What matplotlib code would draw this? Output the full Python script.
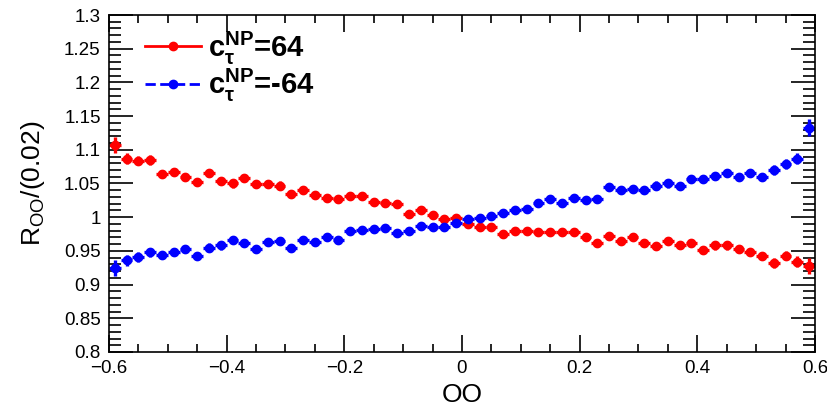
import matplotlib
matplotlib.use("Agg")
import matplotlib.pyplot as plt
import numpy as np
from matplotlib.lines import Line2D
from matplotlib.ticker import MultipleLocator

plt.rcParams["font.family"] = ["Liberation Sans", "DejaVu Sans"]
plt.rcParams["mathtext.fontset"] = "custom"
plt.rcParams["mathtext.rm"] = "Liberation Sans"
plt.rcParams["mathtext.it"] = "Liberation Sans:italic"
plt.rcParams["mathtext.bf"] = "Liberation Sans:bold"

# 60 bins of width 0.02 on [-0.6, 0.6]
bin_width = 0.02
bin_centers = np.arange(-0.59, 0.6, bin_width)

ratio_pos = [1.107, 1.087, 1.084, 1.085, 1.064, 1.067, 1.060, 1.052, 1.066, 1.054,
             1.050, 1.058, 1.049, 1.049, 1.047, 1.034, 1.041, 1.033, 1.028, 1.027,
             1.032, 1.032, 1.023, 1.021, 1.019, 1.005, 1.011, 1.003, 0.997, 0.999,
             0.990, 0.985, 0.985, 0.975, 0.980, 0.980, 0.978, 0.978, 0.978, 0.978,
             0.970, 0.962, 0.972, 0.965, 0.970, 0.962, 0.957, 0.965, 0.959, 0.962,
             0.951, 0.958, 0.958, 0.953, 0.948, 0.943, 0.932, 0.943, 0.934, 0.928]

ratio_neg = [0.925, 0.936, 0.941, 0.948, 0.944, 0.948, 0.953, 0.943, 0.955, 0.958,
             0.966, 0.962, 0.953, 0.963, 0.965, 0.954, 0.966, 0.963, 0.970, 0.966,
             0.980, 0.981, 0.982, 0.984, 0.977, 0.980, 0.987, 0.986, 0.986, 0.992,
             0.997, 0.999, 1.002, 1.006, 1.010, 1.012, 1.021, 1.027, 1.021, 1.028,
             1.026, 1.027, 1.045, 1.041, 1.042, 1.041, 1.047, 1.050, 1.046, 1.056,
             1.056, 1.061, 1.065, 1.059, 1.065, 1.060, 1.070, 1.079, 1.087, 1.133]

# statistical errors, larger in the outermost bins
ratio_err = [0.012, 0.008, 0.007, 0.007, 0.006, 0.006, 0.006, 0.006, 0.006, 0.006,
             0.006, 0.006, 0.006, 0.006, 0.006, 0.006, 0.006, 0.006, 0.006, 0.006,
             0.006, 0.006, 0.006, 0.006, 0.006, 0.006, 0.006, 0.006, 0.006, 0.006,
             0.006, 0.006, 0.006, 0.006, 0.006, 0.006, 0.006, 0.006, 0.006, 0.006,
             0.006, 0.006, 0.006, 0.006, 0.006, 0.006, 0.006, 0.006, 0.006, 0.006,
             0.006, 0.006, 0.006, 0.006, 0.006, 0.006, 0.007, 0.007, 0.008, 0.012]

labels = [r"$\mathbf{c}_{\mathbf{\tau}}^{\mathbf{NP}}$=64",
          r"$\mathbf{c}_{\mathbf{\tau}}^{\mathbf{NP}}$=-64"]
colors = ["#ff0000", "#0000ff"]

fig = plt.figure(figsize=(8.28, 4.08), dpi=100)
ax = fig.add_axes([0.1316, 0.1373, 0.8527, 0.8259])

for vals, col in zip([ratio_pos, ratio_neg], colors):
    ax.errorbar(bin_centers, vals, xerr=bin_width / 2, yerr=ratio_err,
                fmt="o", color=col, markersize=6, elinewidth=2.4, capsize=0)

ax.set_xlim(-0.6, 0.6)
ax.set_ylim(0.8, 1.3)
ax.xaxis.set_major_locator(MultipleLocator(0.2))
ax.xaxis.set_minor_locator(MultipleLocator(0.05))
ax.yaxis.set_major_locator(MultipleLocator(0.05))
ax.yaxis.set_minor_locator(MultipleLocator(0.01))
ax.tick_params(which="both", direction="in", top=True, right=True, width=1.2, labelsize=13.5)
ax.tick_params(axis="x", which="major", length=12, pad=6)
ax.tick_params(axis="x", which="minor", length=6)
ax.tick_params(axis="y", which="major", length=17, pad=6)
ax.tick_params(axis="y", which="minor", length=8.5)
for sp in ax.spines.values():
    sp.set_linewidth(1.2)

xt = [-0.6, -0.4, -0.2, 0, 0.2, 0.4, 0.6]
ax.set_xticks(xt)
ax.set_xticklabels(["\u22120.6", "\u22120.4", "\u22120.2", "0", "0.2", "0.4", "0.6"])
yt = np.round(np.arange(0.8, 1.301, 0.05), 2)
ax.set_yticks(yt)
ax.set_yticklabels(["0.8", "0.85", "0.9", "0.95", "1", "1.05", "1.1", "1.15", "1.2", "1.25", "1.3"])

ax.set_xlabel("OO", fontsize=19, labelpad=4)
ax.set_ylabel(r"R$_{\rm OO}$/(0.02)", fontsize=19, labelpad=12)

handles = [Line2D([], [], color=colors[0], ls="-", lw=2, marker="o", markersize=6),
           Line2D([], [], color=colors[1], ls="--", lw=2, marker="o", markersize=6)]
ax.legend(handles, labels, loc="upper left", bbox_to_anchor=(0.014, 1.035), frameon=False,
          prop={"size": 21, "weight": "bold"}, handlelength=1.9, handletextpad=0.25,
          labelspacing=0.0)

fig.savefig("out.png", dpi=100)
